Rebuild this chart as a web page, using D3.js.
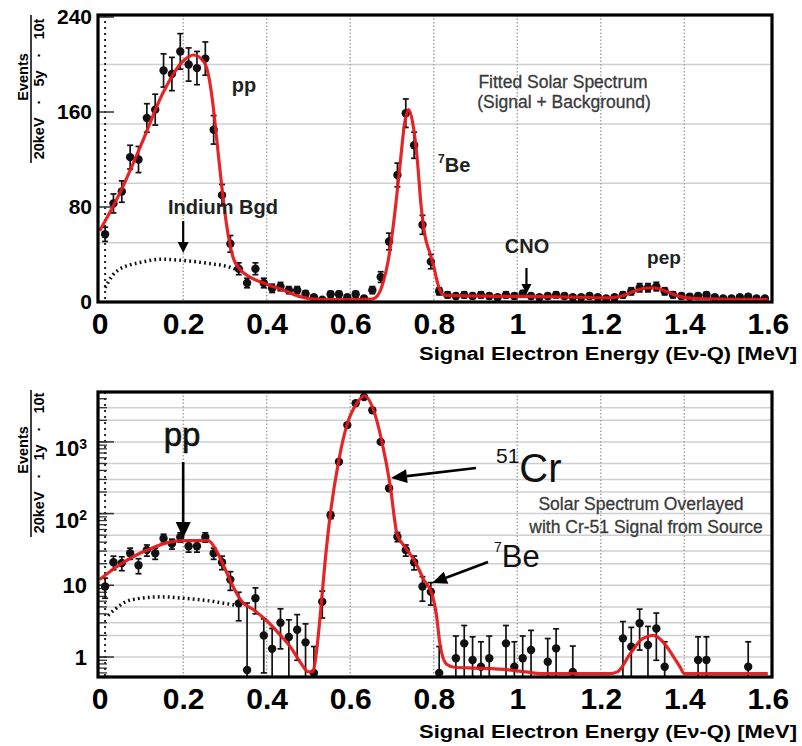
<!DOCTYPE html>
<html><head><meta charset="utf-8">
<script src="https://cdn.jsdelivr.net/npm/d3@7"></script>
<style>body{margin:0;background:#fff} svg{display:block}</style>
</head><body>
<svg id="c" width="802" height="746"></svg>
<script>
// ---------------- DATA ----------------
const xTicks = [0, 0.2, 0.4, 0.6, 0.8, 1.0, 1.2, 1.4, 1.6];
const xTickLabels = ["0", "0.2", "0.4", "0.6", "0.8", "1", "1.2", "1.4", "1.6"];
const xGrid = [0.2, 0.4, 0.6, 0.8, 1.0, 1.2, 1.4];
const topYTicks = [0, 80, 160, 240];
const topYTickLabels = ["0", "80", "160", "240"];
const topYGrid = [50, 100, 150, 200];
const botYTicks = [1, 10, 100, 1000];
const botYTickBase = ["1", "10", "10", "10"];
const botYTickExp = ["", "", "2", "3"];
const botYGrid = [1, 2, 3, 5, 10, 20, 30, 50, 100, 200, 300, 500, 1000, 2000, 3000];
const botYMinor = [0.6,0.7,0.8,0.9,1,2,3,4,5,6,7,8,9,10,20,30,40,50,60,70,80,90,100,200,300,400,500,600,700,800,900,1000,2000,3000,4000];

// Top panel: fitted solar spectrum (5 y)
const topX = [0.013,0.033,0.053,0.073,0.093,0.113,0.133,0.153,0.173,0.193,0.213,0.233,0.253,0.273,0.293,0.313,0.333,0.353,0.373,0.393,
  0.413,0.433,0.453,0.473,0.493,0.513,0.533,0.553,0.573,0.593,0.613,0.633,0.653,0.673,0.693,0.713,0.733,0.753,0.773,0.793,
  0.813,0.833,0.853,0.873,0.893,0.913,0.933,0.953,0.973,0.993,1.013,1.033,1.053,1.073,1.093,1.113,1.133,1.153,1.173,1.193,
  1.213,1.233,1.253,1.273,1.293,1.313,1.333,1.353,1.373,1.393,1.413,1.433,1.453,1.473,1.493,1.513,1.533,1.553,1.573,1.593];
const topY = [57,83,93,122,120,155,162,195,192,211,200,197,205,145,90,49,28,16,28,16,
  11.5,13,10,10,7,4,2,6.5,6.5,4,6.5,3,10,21,51,107,159,132,65,34,
  9,6,5,6,5,6,5,4,6,5,7,5,4,5,6,5,4,4,5,4,
  3,4,6,9,12,12,13,9,6,5,4.4,5,5.9,4,3,3,4,4.4,3,3];
const topErr = [6,8,9,10,11,12,13,14,14,15,14,14,14,12,9,7,5,4,5,4,
  3.5,3.5,3,3,2.5,2,1.5,2.5,2.5,2,2.5,1.7,3,4.5,7,10,12,11,8,6,
  3,2.5,2.2,2.5,2.2,2.5,2.2,2,2.5,2.2,2.6,2.2,2,2.2,2.5,2.2,2,2,2.2,2,
  1.7,2,2.5,3,3.5,3.5,3.6,3,2.5,2.2,2.1,2.2,2.4,2,1.7,1.7,2,2.1,1.7,1.7];
const topFitX = [0,0.05,0.10,0.15,0.20,0.225,0.25,0.26,0.27,0.28,0.29,0.30,0.31,0.32,0.34,0.36,0.40,0.44,0.48,0.52,0.56,0.62,0.65,
  0.66,0.67,0.68,0.69,0.70,0.71,0.72,0.73,0.74,0.75,0.76,0.77,0.78,0.79,0.80,0.81,0.82,0.83,0.95,1.05,1.15,1.22,
  1.25,1.28,1.31,1.33,1.36,1.39,1.42,1.5,1.6];
const topFitY = [60,93,133,175,203,208,202,192,170,138,105,75,52,37,26,21,15,10,4.5,2.2,2,2,2.4,
  3.5,8,18,33,56,85,118,150,162,150,122,80,54,42,30,15,7,5.5,4.8,4.5,4,3.5,
  5,9,11.8,11.8,8.5,4.5,3,2.2,2];
const topBgdX = [0.013,0.03,0.045,0.07,0.10,0.145,0.20,0.26,0.31,0.33];
const topBgdY = [12,22,27,31,33.5,36,35,32.5,29.5,27];

// Bottom panel: solar spectrum overlayed with Cr-51 source (1 y, log)
const botX = [0.013,0.033,0.053,0.073,0.093,0.113,0.133,0.153,0.173,0.193,0.213,0.233,0.253,0.273,0.293,0.313,0.333,0.353,0.373,0.393,
  0.413,0.433,0.453,0.473,0.493,0.513,0.533,0.553,0.573,0.593,0.613,0.633,0.653,0.673,0.693,0.713,0.733,0.753,0.773,0.793,
  0.813,0.853,0.873,0.893,0.913,0.933,0.973,0.993,1.013,1.033,1.073,1.093,1.133,1.253,1.273,1.293,1.313,1.333,1.353,1.433,1.453,1.553];
const botY = [9.6,21,20.5,28,19,31,28,45,38,47,35,35,47,28,21,12,5.6,0.66,6.6,2.0,
  1.3,3.0,1.9,2.4,1.6,0.6,5.9,95,530,1715,3470,4220,2770,1000,226,47.6,31,21,9.6,8.1,
  0.6,0.96,1.55,0.91,0.73,0.96,1.55,0.73,0.96,1.25,0.86,1.32,0.62,1.82,1.39,2.95,1.47,2.5,0.73,0.91,0.91,0.73];
const botErr = [3,4.5,4.5,5,4.5,5.5,5,6.5,6,7,6,6,7,5,4.5,3.5,2.4,5,2.6,1.4,
  1.2,1.7,1.4,1.5,1.3,0.8,2.4,10,23,41,59,65,53,32,15,7,5.5,4.6,3.6,2.8,
  0.8,1,1.2,1,0.9,1,1.2,0.9,1,1.1,0.95,1.15,0.8,1.3,1.2,1.7,1.2,1.6,0.9,1,1,0.9];
const botFitX = [0,0.04,0.08,0.12,0.16,0.20,0.26,0.28,0.30,0.32,0.34,0.37,0.40,0.43,0.46,0.48,0.50,0.51,0.52,0.53,0.54,0.552,0.572,0.592,0.616,0.634,0.656,0.676,0.696,0.712,0.73,0.756,0.776,0.796,0.806,0.815,0.83,0.85,0.90,0.98,1.02,1.06,1.22,
  1.24,1.27,1.30,1.325,1.35,1.37,1.39,1.40,1.6];
const botFitY = [12,18,25,32,39,42,42,30,17,9.5,6,4.5,3.2,2.1,1.3,0.85,0.62,0.62,1.3,5,22,95,530,1715,3470,4400,2770,1000,240,52,35,21,12,7.5,4,1.5,0.8,0.72,0.7,0.66,0.62,0.585,0.585,
  0.62,1.1,1.8,2.0,1.6,1.1,0.72,0.585,0.585];
const botBgdX = [0.02,0.04,0.06,0.09,0.15,0.20,0.25,0.30,0.33];
const botBgdY = [3.8,4.8,5.8,6.5,6.9,6.6,6.2,5.6,5.2];

// ---------------- DRAWING ----------------
const svg = d3.select("#c");
const FONT = "'Liberation Sans', Arial, Helvetica, sans-serif";
const RED = "#e41a1c";

function arrow(g, x1, y1, x2, y2, w, hl, hw) {
  const a = Math.atan2(y2 - y1, x2 - x1);
  const bx = x2 - hl * Math.cos(a), by = y2 - hl * Math.sin(a);
  g.append("line").attr("x1", x1).attr("y1", y1).attr("x2", bx).attr("y2", by)
    .attr("stroke", "#000").attr("stroke-width", w);
  const px = -Math.sin(a) * hw / 2, py = Math.cos(a) * hw / 2;
  g.append("path").attr("d", `M${x2},${y2}L${bx + px},${by + py}L${bx - px},${by - py}Z`).attr("fill", "#000");
}

function panel(o) {
  const g = svg.append("g");
  const x = d3.scaleLinear().domain([-0.004, 1.61]).range([98, 772]);
  const y = o.y;
  const [yb, yt] = y.range();
  const clipId = "clip" + o.id;
  svg.append("clipPath").attr("id", clipId).append("rect")
    .attr("x", 98).attr("y", yt).attr("width", 674).attr("height", yb - yt);
  const inner = g.append("g").attr("clip-path", `url(#${clipId})`);

  // grid
  inner.selectAll(".hg").data(o.yGrid).join("line")
    .attr("x1", 98).attr("x2", 772).attr("y1", d => y(d)).attr("y2", d => y(d))
    .attr("stroke", "#cfcfcf").attr("stroke-width", 1.5);
  inner.selectAll(".vg").data(xGrid).join("line")
    .attr("x1", d => x(d)).attr("x2", d => x(d)).attr("y1", yt).attr("y2", yb)
    .attr("stroke", "#a0a0a0").attr("stroke-width", 1.4).attr("stroke-dasharray", "1.5,2");
  // dotted line near x=0
  inner.append("line").attr("x1", x(0.013)).attr("x2", x(0.013)).attr("y1", yt).attr("y2", yb)
    .attr("stroke", "#222").attr("stroke-width", 2).attr("stroke-dasharray", "2,4");
  // left ticks
  if (o.minor) {
    inner.selectAll(".mt").data(o.minor).join("line")
      .attr("x1", 98).attr("x2", 107).attr("y1", d => y(d)).attr("y2", d => y(d))
      .attr("stroke", "#333").attr("stroke-width", 1.3);
  }
  inner.selectAll(".jt").data(o.yTicks).join("line")
    .attr("x1", 98).attr("x2", 114).attr("y1", d => y(d)).attr("y2", d => y(d))
    .attr("stroke", "#333").attr("stroke-width", 1.5);

  // background (dotted)
  inner.append("path").datum(d3.zip(o.bgdX, o.bgdY))
    .attr("d", d3.line().x(d => x(d[0])).y(d => y(d[1])).curve(d3.curveMonotoneX))
    .attr("fill", "none").attr("stroke", "#111").attr("stroke-width", 3.5).attr("stroke-dasharray", "1.8,3.2");

  // error bars + points
  const pts = d3.zip(o.dX, o.dY, o.dE);
  const lo = d => y(Math.max(d[1] - d[2], y.domain()[0] * 0.5));
  const hi = d => y(d[1] + d[2]);
  inner.selectAll(".eb").data(pts).join("line")
    .attr("x1", d => x(d[0])).attr("x2", d => x(d[0])).attr("y1", lo).attr("y2", hi)
    .attr("stroke", "#111").attr("stroke-width", 1.7);
  inner.selectAll(".ct").data(pts).join("line")
    .attr("x1", d => x(d[0]) - 3).attr("x2", d => x(d[0]) + 3).attr("y1", hi).attr("y2", hi)
    .attr("stroke", "#111").attr("stroke-width", 1.7);
  inner.selectAll(".cb").data(pts).join("line")
    .attr("x1", d => x(d[0]) - 3).attr("x2", d => x(d[0]) + 3).attr("y1", lo).attr("y2", lo)
    .attr("stroke", "#111").attr("stroke-width", 1.7);
  inner.selectAll(".pt").data(pts).join("circle")
    .attr("cx", d => x(d[0])).attr("cy", d => y(d[1])).attr("r", 4.2).attr("fill", "#111");

  // fit
  inner.append("path").datum(d3.zip(o.fitX, o.fitY))
    .attr("d", d3.line().x(d => x(d[0])).y(d => y(d[1])).curve(d3.curveMonotoneX))
    .attr("fill", "none").attr("stroke", RED).attr("stroke-width", 3.2).attr("stroke-opacity", 0.95);

  // frame
  g.append("rect").attr("x", 98).attr("y", yt).attr("width", 674).attr("height", yb - yt)
    .attr("fill", "none").attr("stroke", "#000").attr("stroke-width", 3.2);

  // x axis
  const gx = g.append("g").attr("transform", `translate(0,${yb})`)
    .call(d3.axisBottom(x).tickValues(xTicks).tickFormat((d, i) => xTickLabels[i]).tickSize(0).tickPadding(11));
  gx.select(".domain").remove();
  gx.attr("font-family", FONT).attr("font-size", 30).attr("font-weight", "bold");
  gx.selectAll("text").attr("fill", "#000");

  // x title
  g.append("text").attr("x", 797).attr("y", o.xTitleY).attr("text-anchor", "end")
    .attr("font-family", FONT).attr("font-size", 18).attr("font-weight", "bold")
    .attr("textLength", 378).attr("lengthAdjust", "spacingAndGlyphs")
    .text("Signal Electron Energy (E\u03BD-Q) [MeV]");

  // y axis
  const gy = g.append("g").attr("transform", `translate(98,0)`)
    .call(d3.axisLeft(y).tickValues(o.yTicks).tickFormat(() => "").tickSize(0).tickPadding(o.yPad));
  gy.select(".domain").remove();
  gy.attr("font-family", FONT).attr("font-size", o.yFont).attr("font-weight", "bold");
  gy.selectAll("text").attr("fill", "#000").each(function (d, i) {
    const t = d3.select(this);
    t.append("tspan").text(o.yBase[i]);
    if (o.yExp && o.yExp[i]) {
      t.attr("transform", "translate(0,7)");
      t.append("tspan").attr("dy", "-0.55em").attr("font-size", 14).text(o.yExp[i]);
    }
  });

  // y title as fraction
  g.append("text").attr("transform", `translate(28,${o.numY}) rotate(-90)`).attr("text-anchor", "middle")
    .attr("font-family", FONT).attr("font-size", 14.5).attr("font-weight", "bold").text("Events");
  g.append("line").attr("x1", 31).attr("x2", 31).attr("y1", o.barY[0]).attr("y2", o.barY[1])
    .attr("stroke", "#000").attr("stroke-width", 1.5);
  const dt = g.append("text").attr("transform", `translate(44,${o.denY}) rotate(-90)`).attr("text-anchor", "middle")
    .attr("font-family", FONT).attr("font-size", 14.5).attr("font-weight", "bold");
  o.den.forEach((s, i) => dt.append("tspan").attr("dx", i ? 13 : 0).text(s));

  return { g, x, y };
}

// ---- top panel
const T = panel({
  id: "t",
  y: d3.scaleLinear().domain([0, 241.7]).range([302, 15]).clamp(true),
  yGrid: topYGrid, yTicks: topYTicks, yBase: topYTickLabels, yExp: null, yFont: 21, yPad: 6,
  dX: topX, dY: topY, dE: topErr, fitX: topFitX, fitY: topFitY, bgdX: topBgdX, bgdY: topBgdY,
  xTitleY: 360, numY: 77, denY: 89, barY: [15, 163], den: ["20keV", "\u00B7", "5y", "\u00B7", "10t"]
});

// ---- bottom panel
const B = panel({
  id: "b",
  y: d3.scaleLog().domain([0.526, 4966]).range([677, 392]).clamp(true),
  yGrid: botYGrid, yTicks: botYTicks, yBase: botYTickBase, yExp: botYTickExp, yFont: 22, yPad: 11, minor: botYMinor,
  dX: botX, dY: botY, dE: botErr, fitX: botFitX, fitY: botFitY, bgdX: botBgdX, bgdY: botBgdY,
  xTitleY: 738, numY: 450, denY: 463, barY: [390, 537], den: ["20keV", "\u00B7", "1y", "\u00B7", "10t"]
});

// ---- annotations top
const at = T.g.append("g").attr("font-family", FONT);
at.append("text").attr("x", 244).attr("y", 92).attr("text-anchor", "middle")
  .attr("font-size", 20).attr("font-weight", "bold").attr("fill", "#222").text("pp");
at.append("text").attr("x", 223).attr("y", 214).attr("text-anchor", "middle")
  .attr("font-size", 20).attr("font-weight", "bold").attr("fill", "#222").text("Indium Bgd");
arrow(at, T.x(0.2), 221, T.x(0.2), 253, 2.2, 11, 11);
const be1 = at.append("text").attr("x", 438).attr("y", 172).attr("font-size", 20).attr("font-weight", "bold").attr("fill", "#222");
be1.append("tspan").attr("font-size", 12).attr("dy", -9).text("7");
be1.append("tspan").attr("dy", 9).text("Be");
at.append("text").attr("x", 527).attr("y", 253).attr("text-anchor", "middle")
  .attr("font-size", 20).attr("font-weight", "bold").attr("fill", "#222").text("CNO");
arrow(at, T.x(1.022), 268, T.x(1.022), 294, 2.2, 10, 10);
at.append("text").attr("x", 664).attr("y", 264).attr("text-anchor", "middle")
  .attr("font-size", 19).attr("font-weight", "bold").attr("fill", "#222").text("pep");
at.append("text").attr("x", 563).attr("y", 88).attr("text-anchor", "middle")
  .attr("font-size", 17.5).attr("fill", "#3a3a3a").attr("stroke", "#3a3a3a").attr("stroke-width", 0.3).text("Fitted Solar Spectrum");
at.append("text").attr("x", 564).attr("y", 108).attr("text-anchor", "middle")
  .attr("font-size", 17.5).attr("fill", "#3a3a3a").attr("stroke", "#3a3a3a").attr("stroke-width", 0.3).text("(Signal + Background)");

// ---- annotations bottom
const ab = B.g.append("g").attr("font-family", FONT);
ab.append("text").attr("x", 182).attr("y", 446).attr("text-anchor", "middle")
  .attr("font-size", 33).attr("fill", "#111").attr("stroke", "#111").attr("stroke-width", 0.6).text("pp");
arrow(ab, B.x(0.2), 462, B.x(0.2), 538, 2.6, 16, 15);
const cr = ab.append("text").attr("x", 496).attr("y", 482).attr("font-size", 40).attr("fill", "#111");
cr.append("tspan").attr("font-size", 21).attr("dy", -19).text("51");
cr.append("tspan").attr("dy", 19).text("Cr");
arrow(ab, 476, 468, 391, 478, 2.6, 16, 14);
const be2 = ab.append("text").attr("x", 494).attr("y", 567).attr("font-size", 31).attr("fill", "#111");
be2.append("tspan").attr("font-size", 14).attr("dy", -15).text("7");
be2.append("tspan").attr("dy", 15).text("Be");
arrow(ab, 488, 562, 432, 583, 2.6, 15, 13);
ab.append("text").attr("x", 641).attr("y", 510).attr("text-anchor", "middle")
  .attr("font-size", 17.5).attr("fill", "#3a3a3a").attr("stroke", "#3a3a3a").attr("stroke-width", 0.3).text("Solar Spectrum Overlayed");
ab.append("text").attr("x", 646).attr("y", 533).attr("text-anchor", "middle")
  .attr("font-size", 17.5).attr("fill", "#3a3a3a").attr("stroke", "#3a3a3a").attr("stroke-width", 0.3).text("with Cr-51 Signal from Source");
</script>
</body></html>
